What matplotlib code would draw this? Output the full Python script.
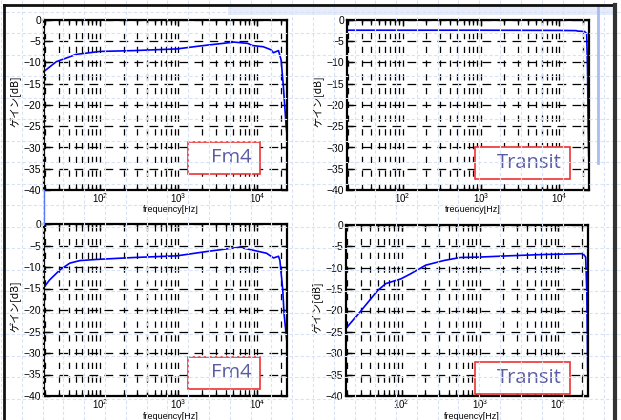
import matplotlib.pyplot as plt
import matplotlib.ticker as mticker
from matplotlib.patches import Rectangle
from matplotlib.lines import Line2D
import numpy as np

plt.rcParams['font.family'] = ['Liberation Sans', 'DejaVu Sans']
plt.rcParams['mathtext.default'] = 'regular'
plt.rcParams['hatch.color'] = '#c8d3f0'

# gain curves (frequency in Hz, gain in dB)
fm4_top_f = [19.5, 28, 50, 100, 270, 960, 1900, 5100, 7600, 8700, 12000, 15000, 16100, 18700, 20200, 21600, 23400, 24000]
fm4_top_db = [-12.1, -9.8, -8.1, -7.4, -7.2, -6.8, -6.1, -5.2, -5.5, -6.0, -6.3, -7.0, -7.7, -7.2, -9.4, -15.7, -25.0, -27.0]

transit_top_f = [19.5, 100, 1000, 10000, 16500, 17000, 21000, 22400, 23000, 23400, 23800]
transit_top_db = [-2.4, -2.4, -2.4, -2.45, -2.5, -2.6, -2.7, -3.2, -12.0, -25.0, -32.0]

fm4_bot_f = [19.5, 23, 31, 41.5, 56, 100, 266, 960, 2290, 6000, 8900, 13200, 16200, 18700, 19500, 21200, 22000, 23800]
fm4_bot_db = [-14.7, -13.0, -10.7, -9.1, -8.5, -8.2, -7.8, -7.4, -6.4, -5.4, -6.1, -6.8, -7.9, -7.5, -8.5, -15.3, -20.8, -27.0]

transit_bot_f = [19.5, 30.5, 49.6, 63, 98, 131, 203, 348, 560, 1000, 2400, 6500, 11600, 20700, 22400, 23200, 23800]
transit_bot_db = [-24.2, -20.0, -15.3, -13.7, -12.6, -11.4, -9.4, -8.3, -7.6, -7.5, -7.2, -6.9, -6.8, -6.7, -7.5, -16.0, -34.0]

names = ['Fm4', 'Transit', 'Fm4', 'Transit']
curves = [(fm4_top_f, fm4_top_db), (transit_top_f, transit_top_db),
          (fm4_bot_f, fm4_bot_db), (transit_bot_f, transit_bot_db)]
yticks = [0, -5, -10, -15, -20, -25, -30, -35, -40]

W, H = 621, 420
fig = plt.figure(figsize=(6.21, 4.2), dpi=100)

# slide background: faint dashed blue grid
for gx in np.arange(0.9, W, 20.8):
    fig.add_artist(Line2D([gx / W] * 2, [0, 1], color='#d9e2f5', lw=0.8, ls=(0, (3, 2))))
for gy in np.arange(11.7, H, 21.5):
    fig.add_artist(Line2D([0, 1], [1 - gy / H] * 2, color='#d9e2f5', lw=0.8, ls=(0, (3, 2))))
fig.add_artist(Rectangle((228 / W, 1 - 15 / H), (614 - 228) / W, 10 / H, facecolor='#e6ecfa',
                         edgecolor='none', hatch='xxxx', lw=0))
fig.add_artist(Line2D([598 / W] * 2, [1 - 5 / H, 1 - 163 / H], color='#aabbee', lw=2))
fig.add_artist(Line2D([44 / W] * 2, [1 - 190 / H, 1 - 224 / H], color='#5577ff', lw=1))
# slide frame
fig.add_artist(Line2D([4 / W, 615 / W], [1 - 5 / H] * 2, color='#111111', lw=2))
fig.add_artist(Line2D([4 / W] * 2, [0, 1 - 5 / H], color='#111111', lw=2))
fig.add_artist(Line2D([615 / W] * 2, [0, 1 - 5 / H], color='#333333', lw=3))

# axes boxes (left, top, right, bottom) in pixels
boxes = [(44, 20, 287, 190), (347, 20, 589, 190), (44, 224, 287, 396), (346, 225, 588, 396)]
# label boxes in axes fraction (x0, y0, x1, y1)
tags = [(0.593, 0.094, 0.889, 0.282), (0.529, 0.065, 0.921, 0.253),
        (0.593, 0.041, 0.889, 0.227), (0.533, 0.012, 0.926, 0.199)]

for i in range(4):
    l, t, r, b = boxes[i]
    ax = fig.add_axes([l / W, 1 - b / H, (r - l) / W, (b - t) / H])
    f, db = curves[i]
    ax.semilogx(f, db, color='#0000ff', lw=1.2)
    ax.set_xlim(19.5, 24000)
    ax.set_ylim(-40, 0)
    ax.set_yticks(yticks)
    ax.xaxis.set_major_locator(mticker.FixedLocator([100, 1000, 10000]))
    ax.xaxis.set_major_formatter(mticker.FuncFormatter(lambda v, p: '$10^{%d}$' % round(np.log10(v))))
    ax.xaxis.set_minor_locator(mticker.LogLocator(base=10, subs=np.arange(2, 10)))
    ax.xaxis.set_minor_formatter(mticker.NullFormatter())
    ax.tick_params(which='both', direction='in', top=True, right=True, labelsize=7.5, pad=2, width=1)
    ax.tick_params(axis='x', labelsize=7, pad=1)
    ax.tick_params(which='major', length=4)
    ax.tick_params(which='minor', length=2.5)
    ax.grid(True, which='both', axis='x', color='black', lw=0.9, ls=(0, (5, 6)))
    ax.grid(True, which='major', axis='y', color='black', lw=0.9, ls=(0, (7, 5)))
    for s in ax.spines.values():
        s.set_linewidth(1.6)
    ax.set_ylabel('ゲイン[dB]', family=['Noto Sans CJK JP', 'DejaVu Sans'], fontsize=7.5)
    ax.yaxis.set_label_coords(-0.092, 0.52)
    ax.set_xlabel('frequency[Hz]', fontsize=6.5)
    ax.xaxis.set_label_coords(0.52, -0.117)
    ax.xaxis.label.set_va('center')
    x0, y0, x1, y1 = tags[i]
    ax.add_patch(Rectangle((x0, y0), x1 - x0, y1 - y0, transform=ax.transAxes,
                           facecolor='white', edgecolor='#ee3333', lw=1.2, zorder=5))
    ax.text(x1 - 0.035, (y0 + y1) / 2, names[i], transform=ax.transAxes, ha='right', va='center',
            fontsize=14.5, color='#5c5ca3', family=['Open Sans', 'DejaVu Sans'], zorder=6)

fig.savefig('out.png', dpi=100)
